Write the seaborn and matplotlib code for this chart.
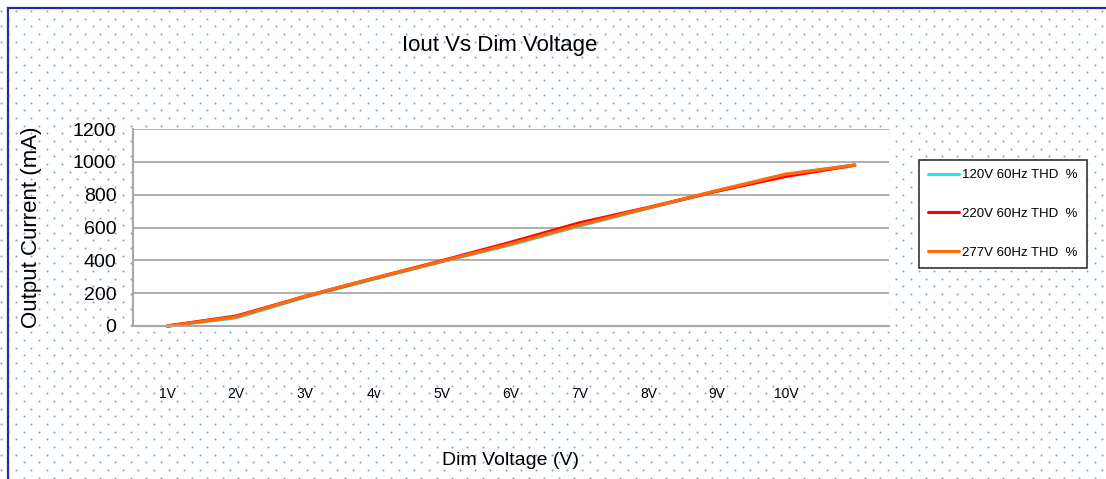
import matplotlib
matplotlib.use("Agg")
import matplotlib.pyplot as plt
from matplotlib.lines import Line2D
import seaborn as sns
import numpy as np
import pandas as pd

# Valores (mA)
dim_steps = [1, 2, 3, 4, 5, 6, 7, 8, 9, 10, 11]
tick_labels = ["1V", "2V", "3V", "4v", "5V", "6V", "7V", "8V", "9V", "10V"]
iout_120v = [0, 50, 175, 285, 393, 495, 610, 718, 822, 920, 980]
iout_220v = [0, 60, 180, 290, 398, 510, 628, 722, 822, 912, 980]
iout_277v = [0, 55, 180, 290, 395, 500, 615, 720, 825, 925, 980]
series_names = ["120V 60Hz THD  %", "220V 60Hz THD  %", "277V 60Hz THD  %"]
series_colors = ["#22e6f2", "#ff0000", "#ff6a0a"]

# Tabela longa para o seaborn
df = pd.DataFrame({
    "dim": dim_steps * 3,
    "iout": iout_120v + iout_220v + iout_277v,
    "serie": [series_names[0]] * 11 + [series_names[1]] * 11 + [series_names[2]] * 11,
})

sns.set_style("white")
plt.rcParams["font.family"] = ["Liberation Sans", "DejaVu Sans"]
plt.rcParams["text.color"] = "black"
plt.rcParams["axes.labelcolor"] = "black"
plt.rcParams["xtick.labelcolor"] = "black"
plt.rcParams["ytick.labelcolor"] = "black"

W, H = 1106, 479
fig = plt.figure(figsize=(W / 100, H / 100), dpi=100)
fig.patch.set_facecolor("white")

# Fundo pontilhado
bg = fig.add_axes([0, 0, 1, 1], zorder=0)
bg.set_xlim(0, W)
bg.set_ylim(H, 0)
bg.axis("off")
gx, gy = [], []
for i, yy in enumerate(np.arange(11, H, 7.65)):
    off = 0 if i % 2 == 0 else 7.65
    xs = np.arange(16 + off - 15.3, W, 15.3)
    gx.extend(xs)
    gy.extend([yy] * len(xs))
bg.scatter(gx, gy, s=2.2, color="#7ea5dc", linewidths=0)

# Moldura (topo e esquerda)
frame = fig.add_axes([8 / W, 0, 1 - 8 / W, 1 - 8 / H], zorder=0.5)
frame.patch.set_alpha(0)
frame.set_xticks([])
frame.set_yticks([])
for s in ["right", "bottom"]:
    frame.spines[s].set_visible(False)
for s in ["top", "left"]:
    frame.spines[s].set_color("#2b2b9e")
    frame.spines[s].set_linewidth(1.6)

# Área do gráfico
ax = fig.add_axes([133 / W, 1 - 326 / H, 756 / W, 197 / H], zorder=1)
ax.set_facecolor("white")
sns.lineplot(data=df, x="dim", y="iout", hue="serie", palette=series_colors,
             linewidth=2.4, ax=ax, legend=False, sort=False)
for ln in ax.lines:
    ln.set_clip_on(False)

ax.set_xlim(0.5, 11.5)
ax.set_ylim(0, 1200)
ax.set_yticks(range(0, 1201, 200))
ax.set_xticks(dim_steps[:10])
ax.set_xticklabels(tick_labels)
ax.grid(axis="y", color="#a8a8a8", linewidth=1.3)
ax.set_axisbelow(True)
for s in ["top", "right"]:
    ax.spines[s].set_visible(False)
for s in ["left", "bottom"]:
    ax.spines[s].set_color("#a8a8a8")
    ax.spines[s].set_linewidth(1.5)
ax.tick_params(axis="x", length=0, pad=44, labelsize=10)
ax.tick_params(axis="y", length=4, color="#a8a8a8", pad=8, labelsize=14)

ax.set_xlabel("Dim Voltage (V)", fontsize=14)
ax.xaxis.set_label_coords(0.5, -0.64)
ax.set_ylabel("Output Current (mA)", fontsize=16)
ax.yaxis.set_label_coords(-0.12, 0.5)

fig.text(500 / W, 1 - 46 / H, "Iout Vs Dim Voltage", fontsize=16,
         ha="center", va="center")

# Legenda
handles = [Line2D([], [], color=c, linewidth=2.2) for c in series_colors]
leg = ax.legend(handles, series_names, loc="upper left",
                bbox_to_anchor=(919 / W, 1 - 160 / H), bbox_transform=fig.transFigure,
                frameon=True, fancybox=False, edgecolor="#333333", fontsize=9.5,
                handlelength=2.3, labelspacing=2.0, borderpad=0.7,
                handletextpad=0.25, borderaxespad=0)
leg.get_frame().set_linewidth(1.2)
leg.get_frame().set_facecolor("white")
leg.get_frame().set_alpha(1)

fig.savefig("out.png", dpi=100)
